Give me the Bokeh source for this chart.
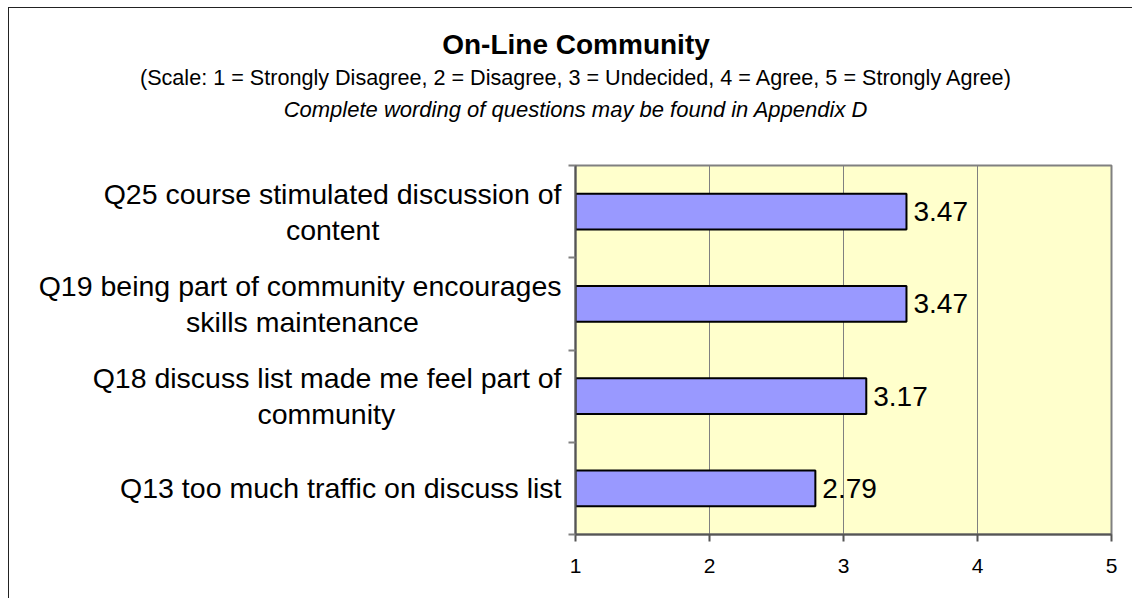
import glob
from bokeh.plotting import figure
from bokeh.models import (ColumnDataSource, Range1d, LinearAxis, FixedTicker, LabelSet, Title)
from bokeh.core.properties import value
from bokeh.embed import file_html
from bokeh.resources import INLINE

# ---- data ----
questions = [
    "Q13 too much traffic on discuss list",
    "Q18 discuss list made me feel part of\ncommunity",
    "Q19 being part of community encourages\nskills maintenance",
    "Q25 course stimulated discussion of\ncontent",
]
scores = [2.79, 3.17, 3.47, 3.47]
score_labels = ["2.79", "3.17", "3.47", "3.47"]
x_ticks = [1, 2, 3, 4, 5]

title_text = "On-Line Community"
subtitle_text = ("(Scale: 1 = Strongly Disagree, 2 = Disagree, 3 = Undecided, "
                 "4 = Agree, 5 = Strongly Agree)")
note_text = "Complete wording of questions may be found in Appendix D"

FONT = "Liberation Sans"
W, H = 1124, 591
BL, BR, BT, BB = 566, 22, 157, 65
LABEL_PX = 28.5
TITLE_PX, SUB_PX, NOTE_PX = 28, 21.6, 22
NBSP = "\u00a0"


def text_width(s, size, style="Regular"):
    try:
        from PIL import ImageFont
        paths = glob.glob(f"/usr/share/fonts/**/LiberationSans-{style}.ttf", recursive=True)
        f = ImageFont.truetype(paths[0], 100)
        return f.getlength(s) * size / 100.0
    except Exception:
        return 0.5 * size * len(s)


def centred_lines(q):
    # pad shorter lines so that right-aligned axis labels look centred
    lines = q.split("\n")
    widest = max(text_width(ln, LABEL_PX) for ln in lines)
    sp = text_width(NBSP, LABEL_PX) or LABEL_PX * 0.278
    out = []
    for ln in lines:
        k = int(round((widest - text_width(ln, LABEL_PX)) / 2.0 / sp))
        out.append(ln + NBSP * k)
    return "\n".join(out)


n = len(questions)
centers = [i + 0.5 for i in range(n)]
bounds = list(range(n + 1))

src = ColumnDataSource(dict(y=centers, q=questions, score=scores, label=score_labels))

p = figure(width=W, height=H, title_location=None,
           y_range=Range1d(0, n), x_range=Range1d(x_ticks[0], x_ticks[-1]),
           output_backend="svg", toolbar_location=None, y_axis_location=None,
           min_border_left=BL, min_border_right=BR, min_border_top=BT, min_border_bottom=BB)

p.background_fill_color = "#FFFFCC"
p.border_fill_color = "white"
p.outline_line_color = "#808080"
p.outline_line_width = 2
p.styles = {"margin-left": "8px", "margin-top": "7px",
            "border-left": "1px solid #222222", "border-top": "1px solid #222222"}

p.hbar(y="y", left=x_ticks[0], right="score", height=0.39, source=src,
       fill_color="#9999FF", line_color="black", line_width=2)

# x axis
p.xaxis.ticker = FixedTicker(ticks=x_ticks)
p.xaxis.major_tick_out = 7
p.xaxis.major_tick_in = 0
p.xaxis.minor_tick_out = 0
p.xaxis.minor_tick_in = 0
p.xaxis.axis_line_color = "#555555"
p.xaxis.axis_line_width = 2
p.xaxis.major_tick_line_color = "#555555"
p.xaxis.major_tick_line_width = 2
p.xaxis.major_label_standoff = 17
p.xaxis.major_label_text_font = FONT
p.xaxis.major_label_text_font_size = "21px"
p.xaxis.major_label_text_color = "black"

p.xgrid.ticker = FixedTicker(ticks=x_ticks)
p.xgrid.grid_line_color = "#808080"
p.xgrid.grid_line_width = 1
p.ygrid.grid_line_color = None

# left axis: ticks at category boundaries (minor ticks only, so no tick labels)
ta = LinearAxis(ticker=FixedTicker(ticks=[], minor_ticks=bounds))
ta.major_tick_out = 0
ta.major_tick_in = 0
ta.minor_tick_out = 7
ta.minor_tick_in = 0
ta.axis_line_color = "#555555"
ta.axis_line_width = 2
ta.minor_tick_line_color = "#808080"
ta.minor_tick_line_width = 2
p.add_layout(ta, "left")

# category labels
ca = LinearAxis(ticker=FixedTicker(ticks=centers),
                major_label_overrides={c: centred_lines(q) for c, q in zip(centers, questions)})
ca.major_tick_out = 0
ca.major_tick_in = 0
ca.minor_tick_out = 0
ca.minor_tick_in = 0
ca.axis_line_color = None
ca.major_tick_line_color = None
ca.major_label_standoff = 7
ca.major_label_text_font = FONT
ca.major_label_text_font_size = f"{LABEL_PX}px"
ca.major_label_text_color = "black"
ca.major_label_text_line_height = 1.12
p.add_layout(ca, "left")

p.add_layout(LabelSet(x="score", y="y", text="label", source=src, x_offset=7,
                      text_baseline="middle", text_align="left",
                      text_font=value(FONT), text_font_size="28px", text_color="black"))

# empty spacer between the plot frame and the heading lines (invisible minor ticks)
spacer = LinearAxis(ticker=FixedTicker(ticks=[], minor_ticks=x_ticks))
spacer.major_tick_out = 39
spacer.major_tick_in = 0
spacer.minor_tick_out = 39
spacer.minor_tick_in = 0
spacer.major_label_standoff = 0
spacer.axis_line_color = None
spacer.major_tick_line_color = None
spacer.minor_tick_line_color = None
p.add_layout(spacer, "above")

# headings: centred on x = frame left (left-aligned titles shifted by half their width)
centre_off = (W / 2.0 + 4) - BL


def heading(text, size, style, file_style, standoff, nudge=0.0):
    w = text_width(text, size, file_style)
    return Title(text=text, align="left", offset=centre_off - w / 2.0 + nudge,
                 standoff=standoff, text_font=FONT, text_font_size=f"{size}px",
                 text_font_style=style, text_color="black")


p.add_layout(heading(note_text, NOTE_PX, "italic", "Italic", 10), "above")
p.add_layout(heading(subtitle_text, SUB_PX, "normal", "Regular", 0), "above")
p.add_layout(heading(title_text, TITLE_PX, "bold", "Bold", 5, 0.5), "above")

open("out.html", "w").write(file_html(p, INLINE))
